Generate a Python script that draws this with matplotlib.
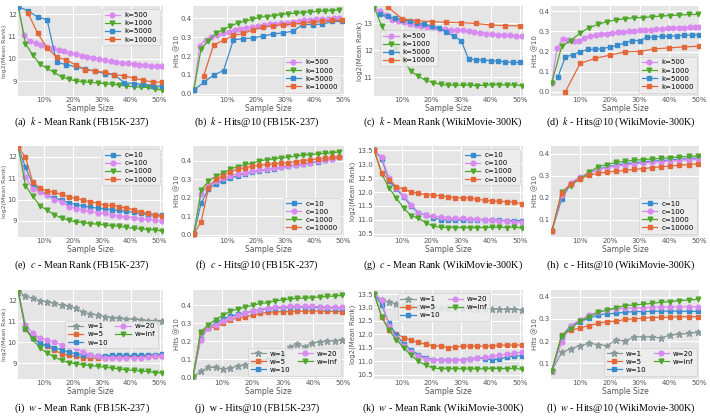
import matplotlib.pyplot as plt

plt.rcParams['mathtext.fontset'] = 'stix'

# sample-size grids (%), one per sampling schedule
X_A26 = [1, 3, 5, 7, 9, 11, 13, 15, 17, 19, 21, 23, 25, 27, 29, 31, 33, 35, 37, 39, 41, 43, 45, 47, 49, 51]
X_A21 = [1, 3.5, 6, 8.5, 11, 13.5, 16, 18.5, 21, 23.5, 26, 28.5, 31, 33.5, 36, 38.5, 41, 43.5, 46, 48.5, 51]
X_A16 = [1, 4.3, 7.7, 11, 14.3, 17.7, 21, 24.3, 27.7, 31, 34.3, 37.7, 41, 44.3, 47.7, 51]
X_B26 = [-1.5, 0.5, 2.5, 4.5, 6.5, 8.5, 10.5, 12.5, 14.5, 16.5, 18.5, 20.5, 22.5, 24.5, 26.5, 28.5,
         30.5, 32.5, 34.5, 36.5, 38.5, 40.5, 42.5, 44.5, 46.5, 48.5]
X_B21 = [-1.5, 1, 3.5, 6, 8.5, 11, 13.5, 16, 18.5, 21, 23.5, 26, 28.5, 31, 33.5, 36, 38.5, 41, 43.5, 46, 48.5]
X_B16 = [-1.5, 1.9, 5.3, 8.7, 12.1, 15.5, 18.9, 22.3, 25.7, 29.1, 32.5, 35.9, 39.3, 42.7, 46.1, 49.5]
X_J21 = [0.5, 3.0, 5.4, 7.9, 10.3, 12.8, 15.2, 17.7, 20.1, 22.6, 25.0, 27.5, 29.9, 32.4, 34.8, 37.3,
         39.7, 42.2, 44.6, 47.1, 49.5]
X_W26 = [0.5, 2.5, 4.5, 6.5, 8.5, 10.5, 12.5, 14.5, 16.5, 18.5, 20.5, 22.5, 24.5, 26.5, 28.5, 30.5,
         32.5, 34.5, 36.5, 38.5, 40.5, 42.5, 44.5, 46.5, 48.5, 50.5]
X_W21 = [0.5, 3, 5.5, 8, 10.5, 13, 15.5, 18, 20.5, 23, 25.5, 28, 30.5, 33, 35.5, 38, 40.5, 43, 45.5, 48, 50.5]
X_W20 = [2.5, 5, 7.5, 10, 12.5, 15, 17.5, 20, 22.5, 25, 27.5, 30, 32.5, 35, 37.5, 40, 42.5, 45, 47.5, 50]
X_W10 = [5, 10, 15, 20, 25, 30, 35, 40, 45, 50]
X_H28 = [0.5, 2.2, 4.1, 5.9, 7.8, 9.7, 11.4, 13.3, 15.2, 17.0, 18.9, 20.8, 22.6, 24.4, 26.3, 28.2,
         30.0, 31.9, 33.8, 35.6, 37.5, 39.4, 41.2, 43.1, 45.0, 46.9, 48.7, 50.0]
X_H17 = [0.5, 3.8, 6.8, 9.9, 13.0, 16.0, 19.0, 22.1, 25.1, 28.2, 31.2, 34.2, 37.2, 40.3, 43.3, 46.5, 49.5]

# (a) k - Mean Rank (FB15K-237)
A_K500 = [12.33, 11.08, 10.78, 10.7, 10.63, 10.53, 10.48, 10.4, 10.35, 10.27, 10.2, 10.15, 10.08, 10.05,
          10.0, 9.95, 9.9, 9.87, 9.83, 9.8, 9.77, 9.74, 9.73, 9.7, 9.68, 9.67]
A_K1000 = [12.33, 10.68, 10.18, 9.77, 9.58, 9.4, 9.2, 9.1, 9.02, 8.98, 8.96, 8.93, 8.9, 8.87, 8.84, 8.8,
           8.76, 8.74, 8.73, 8.65, 8.62]
A_K5000 = [12.33, 12.15, 11.87, 11.75, 9.85, 9.75, 9.65, 9.55, 9.45, 9.35, 9.3, 8.95, 8.9, 8.87, 8.8, 8.78]
A_K10000 = [12.06, 11.15, 10.5, 10.08, 9.95, 9.73, 9.52, 9.47, 9.4, 9.3, 9.25, 9.15, 9.05, 8.97, 8.97]

# (b) k - Hits@10 (FB15K-237)
B_K500 = [0.02, 0.255, 0.285, 0.30, 0.31, 0.32, 0.33, 0.34, 0.345, 0.35, 0.355, 0.36, 0.365, 0.37, 0.372,
          0.375, 0.378, 0.38, 0.385, 0.39, 0.392, 0.395, 0.397, 0.398, 0.40, 0.40]
B_K1000 = [0.02, 0.24, 0.28, 0.32, 0.34, 0.36, 0.375, 0.385, 0.395, 0.405, 0.41, 0.415, 0.42, 0.425, 0.428,
           0.43, 0.435, 0.437, 0.44, 0.442, 0.445]
B_K5000 = [0.02, 0.06, 0.10, 0.123, 0.287, 0.292, 0.297, 0.306, 0.318, 0.323, 0.332, 0.367, 0.367, 0.37,
           0.384, 0.384]
B_K10000 = [0.096, 0.26, 0.283, 0.31, 0.32, 0.34, 0.353, 0.362, 0.367, 0.37, 0.374, 0.38, 0.385, 0.39, 0.39]

# (c) k - Mean Rank (WikiMovie-300K)
C_K500 = [13.55, 13.47, 13.3, 13.13, 13.08, 13.04, 12.97, 12.95, 12.9, 12.87, 12.84, 12.8, 12.78, 12.77,
          12.74, 12.74, 12.71, 12.69, 12.65, 12.62, 12.6, 12.58, 12.56, 12.56, 12.52, 12.52]
C_K1000 = [13.6, 12.9, 12.45, 12.05, 11.6, 11.22, 11.03, 10.88, 10.8, 10.73, 10.7, 10.7, 10.7, 10.7, 10.69,
           10.7, 10.72, 10.72, 10.7, 10.72, 10.68]
C_K5000 = [13.34, 13.26, 13.2, 13.13, 13.08, 13.01, 12.97, 12.9, 12.84, 12.68, 12.52, 12.36, 11.68, 11.65,
           11.64, 11.61, 11.6, 11.57, 11.55, 11.55]
C_K10000 = [13.62, 13.17, 13.1, 13.07, 13.04, 13.03, 13.0, 12.94, 12.92, 12.91]

# (d) k - Hits@10 (WikiMovie-300K)
D_K500 = [0.046, 0.215, 0.262, 0.258, 0.254, 0.25, 0.268, 0.277, 0.282, 0.285, 0.289, 0.293, 0.295, 0.298,
          0.30, 0.302, 0.305, 0.307, 0.308, 0.31, 0.312, 0.314, 0.315, 0.317, 0.318, 0.319, 0.32, 0.322]
D_K1000 = [0.046, 0.226, 0.254, 0.29, 0.318, 0.334, 0.348, 0.356, 0.362, 0.367, 0.367, 0.372, 0.375, 0.378,
           0.38, 0.383, 0.383]
D_K5000 = [0.074, 0.172, 0.185, 0.198, 0.21, 0.21, 0.213, 0.223, 0.23, 0.243, 0.254, 0.254, 0.27, 0.272,
           0.275, 0.275, 0.278, 0.28, 0.282, 0.282]
D_K10000 = [0.0, 0.141, 0.166, 0.182, 0.198, 0.2, 0.213, 0.218, 0.223, 0.226]

# (e) c - Mean Rank (FB15K-237)
E_C10 = [12.44, 11.5, 10.7, 10.45, 10.2, 10.08, 9.98, 9.85, 9.76, 9.7, 9.64, 9.6, 9.57, 9.53, 9.49, 9.45,
         9.4, 9.35, 9.3, 9.27, 9.27]
E_C100 = [12.44, 11.05, 10.5, 10.35, 10.2, 10.0, 9.9, 9.66, 9.58, 9.5, 9.45, 9.38, 9.35, 9.27, 9.22, 9.19,
          9.16, 9.1, 9.08, 9.03, 9.0]
E_C1000 = [12.44, 10.65, 10.15, 9.72, 9.5, 9.3, 9.13, 9.03, 8.95, 8.92, 8.88, 8.85, 8.8, 8.78, 8.75, 8.7,
           8.65, 8.63, 8.6, 8.58, 8.52]
E_C10000 = [12.44, 11.97, 10.83, 10.52, 10.4, 10.33, 10.24, 10.13, 10.05, 9.97, 9.9, 9.84, 9.73, 9.73, 9.66,
            9.6, 9.53, 9.42, 9.35, 9.27, 9.22]

# (f) c - Hits@10 (FB15K-237)
F_C10 = [0.005, 0.17, 0.247, 0.274, 0.29, 0.305, 0.32, 0.33, 0.338, 0.345, 0.352, 0.358, 0.364, 0.37, 0.375,
         0.38, 0.388, 0.395, 0.402, 0.41, 0.418]
F_C100 = [0.005, 0.22, 0.27, 0.29, 0.305, 0.318, 0.328, 0.335, 0.342, 0.348, 0.355, 0.36, 0.366, 0.372, 0.378,
          0.384, 0.39, 0.397, 0.404, 0.41, 0.418]
F_C1000 = [0.005, 0.24, 0.29, 0.315, 0.333, 0.355, 0.368, 0.38, 0.385, 0.40, 0.405, 0.41, 0.415, 0.42, 0.425,
           0.43, 0.433, 0.437, 0.44, 0.443, 0.448]
F_C10000 = [0.005, 0.07, 0.25, 0.30, 0.32, 0.34, 0.355, 0.362, 0.37, 0.375, 0.38, 0.383, 0.388, 0.39, 0.395,
            0.4, 0.405, 0.41, 0.413, 0.418, 0.422]

# (g) c - Mean Rank (WikiMovie-300K)
G_C10 = [13.5, 13.2, 12.4, 12.1, 11.83, 11.48, 11.26, 11.17, 11.08, 11.01, 10.99, 10.99, 10.99, 11.0, 11.0,
         11.0, 11.0, 10.98, 10.97, 10.97, 10.97]
G_C100 = [13.5, 13.26, 12.5, 12.16, 11.86, 11.55, 11.26, 11.17, 11.13, 11.11, 11.08, 11.06, 11.06, 11.04,
          11.02, 11.01, 11.0, 10.97, 10.95, 10.93, 10.92]
G_C1000 = [13.5, 12.66, 12.15, 11.78, 11.42, 11.15, 11.05, 10.9, 10.77, 10.73, 10.72, 10.72, 10.72, 10.71,
           10.72, 10.72, 10.73, 10.73, 10.72, 10.74, 10.7]
G_C10000 = [13.5, 12.7, 12.43, 12.2, 12.1, 12.01, 11.95, 11.91, 11.89, 11.86, 11.83, 11.8, 11.79, 11.79,
            11.74, 11.7, 11.68, 11.67, 11.65, 11.64, 11.58]

# (h) c - Hits@10 (WikiMovie-300K)
H_C10 = [0.05, 0.195, 0.262, 0.29, 0.31, 0.328, 0.34, 0.348, 0.354, 0.358, 0.362, 0.365, 0.368, 0.371, 0.374,
         0.377, 0.38]
H_C100 = [0.05, 0.21, 0.268, 0.293, 0.312, 0.326, 0.336, 0.343, 0.348, 0.353, 0.357, 0.36, 0.363, 0.366,
          0.369, 0.372, 0.375]
H_C1000 = [0.05, 0.228, 0.255, 0.285, 0.315, 0.34, 0.35, 0.36, 0.365, 0.37, 0.372, 0.375, 0.378, 0.381,
           0.384, 0.387, 0.389]
H_C10000 = [0.05, 0.222, 0.262, 0.285, 0.302, 0.31, 0.316, 0.32, 0.324, 0.328, 0.332, 0.336, 0.34, 0.343,
            0.347, 0.35, 0.353]

# (i) w - Mean Rank (FB15K-237)
I_W1 = [12.43, 12.22, 12.11, 12.0, 11.95, 11.87, 11.79, 11.74, 11.63, 11.44, 11.36, 11.31, 11.23, 11.19,
        11.15, 11.12, 11.11, 11.08, 11.04, 11.0, 11.0]
I_W5 = [12.43, 10.63, 10.25, 9.96, 9.8, 9.64, 9.45, 9.37, 9.32, 9.27, 9.24, 9.24, 9.27, 9.29, 9.32, 9.32,
        9.32, 9.32, 9.32, 9.35, 9.35]
I_W10 = [12.43, 10.68, 10.2, 9.96, 9.85, 9.75, 9.64, 9.52, 9.45, 9.4, 9.37, 9.35, 9.35, 9.37, 9.37, 9.37,
         9.37, 9.37, 9.38, 9.4, 9.43]
I_W20 = [12.43, 10.84, 10.44, 10.2, 10.12, 10.0, 9.88, 9.83, 9.72, 9.52, 9.4, 9.32, 9.27, 9.24, 9.24, 9.24,
         9.27, 9.27, 9.29, 9.32, 9.35]
I_WINF = [12.43, 10.65, 10.15, 9.72, 9.5, 9.3, 9.13, 9.03, 8.97, 8.92, 8.88, 8.85, 8.8, 8.77, 8.72, 8.68,
          8.65, 8.62, 8.6, 8.55, 8.52]

# (j) w - Hits@10 (FB15K-237)
J_W1 = [0.0, 0.032, 0.054, 0.054, 0.045, 0.05, 0.063, 0.068, 0.08, 0.09, 0.1, 0.113, 0.125, 0.17, 0.185,
        0.17, 0.192, 0.197, 0.2, 0.203, 0.205]
J_W5 = [0.0, 0.25, 0.275, 0.28, 0.30, 0.32, 0.33, 0.335, 0.345, 0.355, 0.36, 0.363, 0.365, 0.365, 0.367,
        0.367, 0.368, 0.368, 0.367, 0.366, 0.365]
J_W10 = [0.0, 0.215, 0.275, 0.30, 0.325, 0.338, 0.35, 0.358, 0.367, 0.375, 0.38, 0.385, 0.386, 0.39, 0.39,
         0.39, 0.389, 0.388, 0.387, 0.386, 0.385]
J_W20 = [0.0, 0.205, 0.275, 0.292, 0.31, 0.327, 0.345, 0.355, 0.367, 0.375, 0.385, 0.39, 0.393, 0.395, 0.395,
         0.395, 0.394, 0.393, 0.392, 0.39, 0.39]
J_WINF = [0.0, 0.25, 0.29, 0.32, 0.345, 0.367, 0.38, 0.39, 0.40, 0.41, 0.415, 0.425, 0.43, 0.435, 0.438,
          0.44, 0.443, 0.446, 0.449, 0.452, 0.455]

# (k) w - Mean Rank (WikiMovie-300K)
K_W1 = [13.5, 13.28, 13.19, 13.13, 13.09, 13.05, 13.02, 13.02, 13.0, 12.99, 12.98, 12.98, 12.97, 12.96,
        12.95, 12.95, 12.94, 12.94, 12.93, 12.93, 12.92]
K_W5 = [13.5, 12.66, 12.17, 12.02, 11.88, 11.78, 11.7, 11.63, 11.58, 11.56, 11.51, 11.53, 11.56, 11.57,
        11.56, 11.56, 11.57, 11.6, 11.6, 11.6, 11.6]
K_W10 = [13.5, 13.09, 12.41, 11.98, 11.65, 11.42, 11.25, 11.12, 11.06, 11.04, 11.04, 11.04, 11.06, 11.08,
         11.12, 11.1, 11.06, 11.08, 11.16, 11.2, 11.2]
K_W20 = [13.5, 13.26, 12.3, 11.86, 11.55, 11.33, 11.18, 11.08, 11.04, 11.03, 11.04, 11.04, 11.06, 11.08,
         11.12, 11.14, 11.18, 11.22, 11.27, 11.3, 11.33]
K_WINF = [13.5, 12.65, 12.15, 11.8, 11.5, 11.22, 11.0, 10.85, 10.75, 10.72, 10.72, 10.72, 10.72, 10.71,
          10.72, 10.72, 10.73, 10.73, 10.72, 10.74, 10.7]

# (l) w - Hits@10 (WikiMovie-300K)
L_W1 = [0.068, 0.15, 0.165, 0.18, 0.19, 0.185, 0.18, 0.205, 0.2, 0.22, 0.22, 0.218, 0.215, 0.227, 0.232,
        0.235, 0.24]
L_W5 = [0.068, 0.228, 0.248, 0.26, 0.27, 0.28, 0.288, 0.29, 0.298, 0.30, 0.303, 0.306, 0.307, 0.308, 0.31,
        0.31, 0.31]
L_W10 = [0.068, 0.22, 0.27, 0.288, 0.303, 0.318, 0.323, 0.325, 0.33, 0.333, 0.333, 0.334, 0.335, 0.335,
         0.335, 0.334, 0.334]
L_W20 = [0.068, 0.195, 0.27, 0.295, 0.318, 0.33, 0.34, 0.345, 0.348, 0.35, 0.351, 0.352, 0.353, 0.354,
         0.355, 0.355, 0.355]
L_WINF = [0.068, 0.225, 0.255, 0.29, 0.31, 0.33, 0.34, 0.35, 0.36, 0.363, 0.366, 0.37, 0.375, 0.378, 0.382,
          0.385, 0.388]

STYLE = {
    'violet': dict(color='#D98AF0', marker='o', markersize=3.4),
    'green': dict(color='#4FA72A', marker='v', markersize=3.4),
    'blue': dict(color='#3A8BCB', marker='s', markersize=2.6),
    'orange': dict(color='#E2683A', marker='s', markersize=2.6),
    'gray': dict(color='#8A9A9A', marker='*', markersize=4.5),
}

W, H = 710, 417
COL_X = [(18, 163), (193, 344), (374, 523), (551, 700)]
ROW_Y = [(6, 96), (146, 237), (290, 379)]
CAP_X = [82, 257, 443, 621]
CAP_Y = [122, 265, 408]

MR = 'log2(Mean Rank)'
HT = 'Hits @10'

panels = [
    # row, col, caption, ylabel, xlim, ylim, yticks, series, legend
    (0, 0, '(a)  $k$ - Mean Rank (FB15K-237)', MR, (0.9, 51.2), (8.35, 12.36), [9, 10, 11, 12],
     [('k=500', X_A26, A_K500, 'violet'), ('k=1000', X_A21, A_K1000, 'green'),
      ('k=5000', X_A16, A_K5000, 'blue'), ('k=10000', X_A16[1:], A_K10000, 'orange')],
     dict(loc='upper right', ncol=1)),
    (0, 1, '(b)  $k$ - Hits@10 (FB15K-237)', HT, (-1.8, 50.1), (-0.012, 0.466), [0.0, 0.1, 0.2, 0.3, 0.4],
     [('k=500', X_B26, B_K500, 'violet'), ('k=1000', X_B21, B_K1000, 'green'),
      ('k=5000', X_B16, B_K5000, 'blue'), ('k=10000', X_B16[1:], B_K10000, 'orange')],
     dict(loc='lower right', ncol=1)),
    (0, 2, '(c)  $k$ - Mean Rank (WikiMovie-300K)', MR, (0.4, 51), (10.3, 13.65), [11, 12, 13],
     [('k=500', X_W26, C_K500, 'violet'), ('k=1000', X_W21, C_K1000, 'green'),
      ('k=5000', X_W20, C_K5000, 'blue'), ('k=10000', X_W10, C_K10000, 'orange')],
     dict(loc='center left', bbox_to_anchor=(0.02, 0.53), ncol=1)),
    (0, 3, '(d)  $k$ - Hits@10 (WikiMovie-300K)', HT, (0.2, 50.3), (-0.02, 0.425), [0.0, 0.1, 0.2, 0.3, 0.4],
     [('k=500', X_H28, D_K500, 'violet'), ('k=1000', X_H17, D_K1000, 'green'),
      ('k=5000', X_W20, D_K5000, 'blue'), ('k=10000', X_W10, D_K10000, 'orange')],
     dict(loc='lower right', ncol=1)),
    (1, 0, '(e)  $c$ - Mean Rank (FB15K-237)', MR, (0.9, 51.2), (8.25, 12.5), [9, 10, 11, 12],
     [('c=10', X_A21, E_C10, 'blue'), ('c=100', X_A21, E_C100, 'violet'),
      ('c=1000', X_A21, E_C1000, 'green'), ('c=10000', X_A21, E_C10000, 'orange')],
     dict(loc='upper right', ncol=1)),
    (1, 1, '(f)  $c$ - Hits@10 (FB15K-237)', HT, (-1.8, 50.1), (-0.013, 0.48), [0.0, 0.1, 0.2, 0.3, 0.4],
     [('c=10', X_B21, F_C10, 'blue'), ('c=100', X_B21, F_C100, 'violet'),
      ('c=1000', X_B21, F_C1000, 'green'), ('c=10000', X_B21, F_C10000, 'orange')],
     dict(loc='lower right', ncol=1)),
    (1, 2, '(g)  $c$ - Mean Rank (WikiMovie-300K)', MR, (0.4, 51), (10.38, 13.66),
     [10.5, 11.0, 11.5, 12.0, 12.5, 13.0, 13.5],
     [('c=10', X_W21, G_C10, 'blue'), ('c=100', X_W21, G_C100, 'violet'),
      ('c=1000', X_W21, G_C1000, 'green'), ('c=10000', X_W21, G_C10000, 'orange')],
     dict(loc='upper right', ncol=1)),
    (1, 3, '(h)  c - Hits@10 (WikiMovie-300K)', HT, (0.2, 50.3), (0.022, 0.434), [0.1, 0.2, 0.3, 0.4],
     [('c=10', X_H17, H_C10, 'blue'), ('c=100', X_H17, H_C100, 'violet'),
      ('c=1000', X_H17, H_C1000, 'green'), ('c=10000', X_H17, H_C10000, 'orange')],
     dict(loc='lower right', ncol=1)),
    (2, 0, '(i)  $w$ - Mean Rank (FB15K-237)', MR, (0.9, 51.2), (8.24, 12.51), [9, 10, 11, 12],
     [('w=1', X_A21, I_W1, 'gray'), ('w=5', X_A21, I_W5, 'orange'), ('w=10', X_A21, I_W10, 'blue'),
      ('w=20', X_A21, I_W20, 'violet'), ('w=inf', X_A21, I_WINF, 'green')],
     dict(loc='center right', bbox_to_anchor=(0.99, 0.5), ncol=2)),
    (2, 1, '(j)  w - Hits@10 (FB15K-237)', HT, (0.5, 50.1), (-0.01, 0.485), [0.0, 0.1, 0.2, 0.3, 0.4],
     [('w=1', X_J21, J_W1, 'gray'), ('w=5', X_J21, J_W5, 'orange'), ('w=10', X_J21, J_W10, 'blue'),
      ('w=20', X_J21, J_W20, 'violet'), ('w=inf', X_J21, J_WINF, 'green')],
     dict(loc='lower right', ncol=2)),
    (2, 2, '(k)  $w$ - Mean Rank (WikiMovie-300K)', MR, (0.4, 51), (10.34, 13.65),
     [10.5, 11.0, 11.5, 12.0, 12.5, 13.0, 13.5],
     [('w=1', X_W21, K_W1, 'gray'), ('w=5', X_W21, K_W5, 'orange'), ('w=10', X_W21, K_W10, 'blue'),
      ('w=20', X_W21, K_W20, 'violet'), ('w=inf', X_W21, K_WINF, 'green')],
     dict(loc='upper center', bbox_to_anchor=(0.47, 1.0), ncol=2)),
    (2, 3, '(l)  $w$ - Hits@10 (WikiMovie-300K)', HT, (0.2, 50.3), (0.03, 0.43), [0.1, 0.2, 0.3, 0.4],
     [('w=1', X_H17, L_W1, 'gray'), ('w=5', X_H17, L_W5, 'orange'), ('w=10', X_H17, L_W10, 'blue'),
      ('w=20', X_H17, L_W20, 'violet'), ('w=inf', X_H17, L_WINF, 'green')],
     dict(loc='lower right', ncol=2)),
]

fig = plt.figure(figsize=(W / 100, H / 100), dpi=100)

for row, col, caption, ylabel, xlim, ylim, yticks, series, leg in panels:
    x0, x1 = COL_X[col]
    y0, y1 = ROW_Y[row]
    ax = fig.add_axes([x0 / W, 1 - y1 / H, (x1 - x0) / W, (y1 - y0) / H])
    ax.set_facecolor('#E5E5E5')
    for s in ax.spines.values():
        s.set_visible(False)
    ax.grid(True, color='white', linewidth=0.8)
    ax.set_axisbelow(True)

    for label, xs, ys, key in series:
        ax.plot(xs, ys, label=label, linewidth=0.9, **STYLE[key])

    ax.set_xlim(*xlim)
    ax.set_ylim(*ylim)
    ax.set_xticks([10, 20, 30, 40, 50])
    ax.set_xticklabels(['10%', '20%', '30%', '40%', '50%'])
    ax.set_yticks(yticks)
    ax.tick_params(length=0, labelsize=5, colors='#555555', pad=1.0)
    ax.set_xlabel('Sample Size', fontsize=5.5, color='#555555', labelpad=0.5)
    ax.set_ylabel(ylabel, fontsize=4.5 if col == 0 else 5, color='#555555', labelpad=0.3)

    lg = ax.legend(fontsize=5, handlelength=2.2, handletextpad=0.6, labelspacing=0.3,
                   borderpad=0.4, columnspacing=1.0, facecolor='#EEEEEE', edgecolor='#CCCCCC',
                   framealpha=0.85, **leg)
    lg.get_frame().set_linewidth(0.5)

    fig.text(CAP_X[col] / W, 1 - CAP_Y[row] / H, caption, ha='center', va='center',
             fontsize=7.3, family='Liberation Serif')

fig.savefig('out.png', dpi=100)
